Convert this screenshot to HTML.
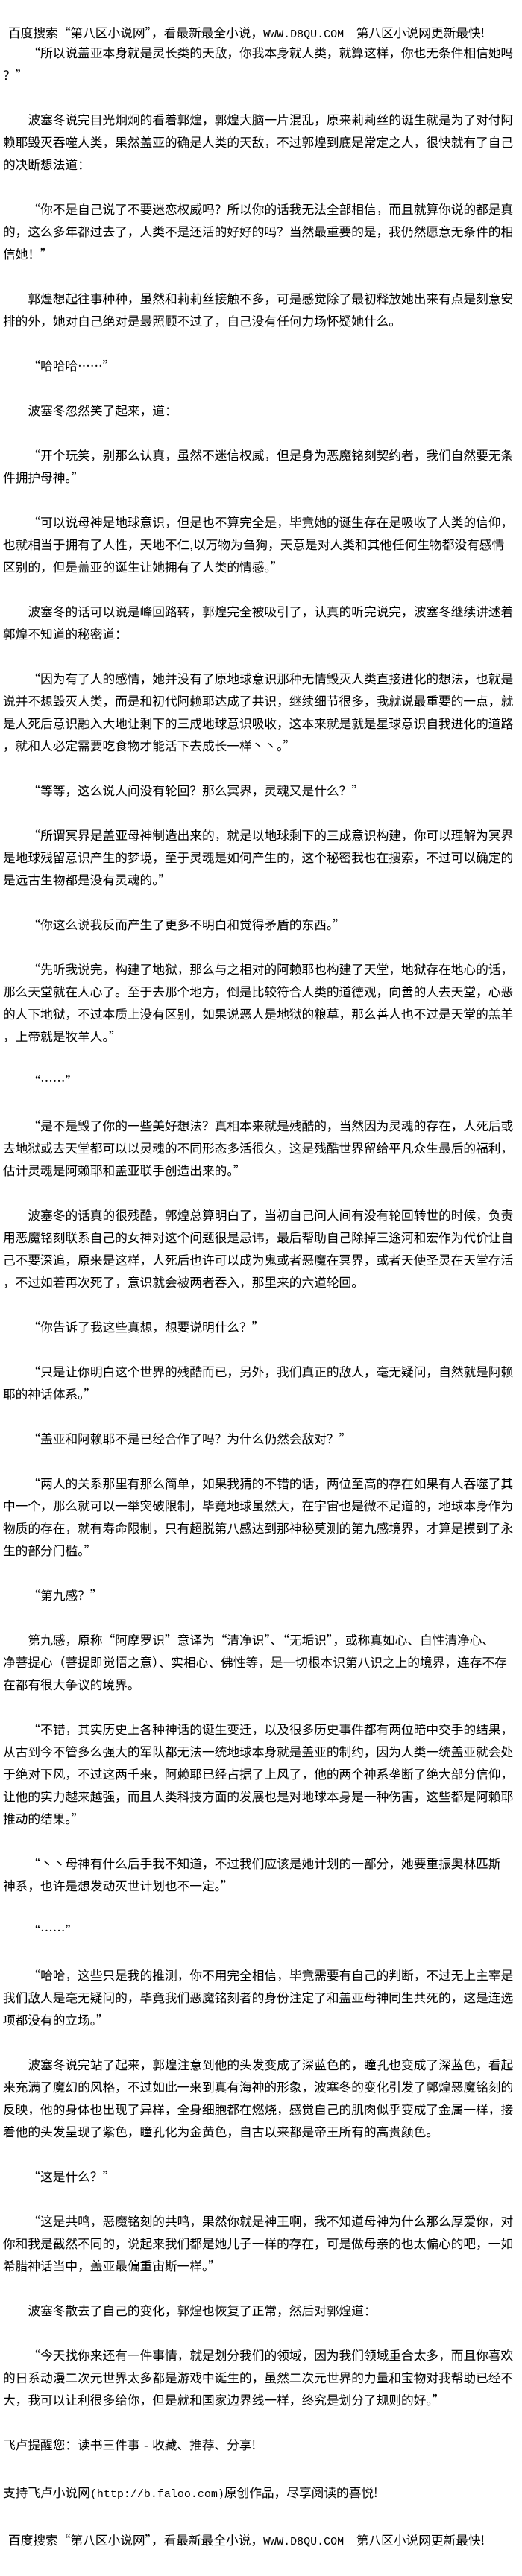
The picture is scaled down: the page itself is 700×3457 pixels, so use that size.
<!DOCTYPE html>
<html><head><meta charset="utf-8">
<style>
html,body{margin:0;padding:0;background:#fff;}
body{width:700px;height:3440px;position:relative;overflow:hidden;
font-family:"Noto Sans CJK SC","WenQuanYi Zen Hei",sans-serif;font-size:16.7px;line-height:30px;color:#000;}
.hd{position:absolute;left:11px;top:28px;white-space:nowrap;}
.main{position:absolute;left:4px;top:55px;width:692px;}
.main p{margin:0 0 30px 0;white-space:nowrap;}
.i{text-indent:2em;}
.lat{font-family:"Liberation Mono",monospace;font-size:15px;}
</style></head><body>
<div class="hd">百度搜索“第八区小说网”，看最新最全小说，<span class="lat">WWW.D8QU.COM</span>　第八区小说网更新最快!</div>
<div class="main">
<p class="i">“所以说盖亚本身就是灵长类的天敌，你我本身就人类，就算这样，你也无条件相信她吗<br>？”</p>
<p class="i">波塞冬说完目光炯炯的看着郭煌，郭煌大脑一片混乱，原来莉莉丝的诞生就是为了对付阿<br>赖耶毁灭吞噬人类，果然盖亚的确是人类的天敌，不过郭煌到底是常定之人，很快就有了自己<br>的决断想法道：</p>
<p class="i">“你不是自己说了不要迷恋权威吗？所以你的话我无法全部相信，而且就算你说的都是真<br>的，这么多年都过去了，人类不是还活的好好的吗？当然最重要的是，我仍然愿意无条件的相<br>信她！”</p>
<p class="i">郭煌想起往事种种，虽然和莉莉丝接触不多，可是感觉除了最初释放她出来有点是刻意安<br>排的外，她对自己绝对是最照顾不过了，自己没有任何力场怀疑她什么。</p>
<p class="i">“哈哈哈……”</p>
<p class="i">波塞冬忽然笑了起来，道：</p>
<p class="i">“开个玩笑，别那么认真，虽然不迷信权威，但是身为恶魔铭刻契约者，我们自然要无条<br>件拥护母神。”</p>
<p class="i">“可以说母神是地球意识，但是也不算完全是，毕竟她的诞生存在是吸收了人类的信仰，<br>也就相当于拥有了人性，天地不仁,以万物为刍狗，天意是对人类和其他任何生物都没有感情<br>区别的，但是盖亚的诞生让她拥有了人类的情感。”</p>
<p class="i">波塞冬的话可以说是峰回路转，郭煌完全被吸引了，认真的听完说完，波塞冬继续讲述着<br>郭煌不知道的秘密道：</p>
<p class="i">“因为有了人的感情，她并没有了原地球意识那种无情毁灭人类直接进化的想法，也就是<br>说并不想毁灭人类，而是和初代阿赖耶达成了共识，继续细节很多，我就说最重要的一点，就<br>是人死后意识融入大地让剩下的三成地球意识吸收，这本来就是就是星球意识自我进化的道路<br>，就和人必定需要吃食物才能活下去成长一样丶丶。”</p>
<p class="i">“等等，这么说人间没有轮回？那么冥界，灵魂又是什么？”</p>
<p class="i">“所谓冥界是盖亚母神制造出来的，就是以地球剩下的三成意识构建，你可以理解为冥界<br>是地球残留意识产生的梦境，至于灵魂是如何产生的，这个秘密我也在搜索，不过可以确定的<br>是远古生物都是没有灵魂的。”</p>
<p class="i">“你这么说我反而产生了更多不明白和觉得矛盾的东西。”</p>
<p class="i">“先听我说完，构建了地狱，那么与之相对的阿赖耶也构建了天堂，地狱存在地心的话，<br>那么天堂就在人心了。至于去那个地方，倒是比较符合人类的道德观，向善的人去天堂，心恶<br>的人下地狱，不过本质上没有区别，如果说恶人是地狱的粮草，那么善人也不过是天堂的羔羊<br>，上帝就是牧羊人。”</p>
<p class="i">“……”</p>
<p class="i">“是不是毁了你的一些美好想法？真相本来就是残酷的，当然因为灵魂的存在，人死后或<br>去地狱或去天堂都可以以灵魂的不同形态多活很久，这是残酷世界留给平凡众生最后的福利，<br>估计灵魂是阿赖耶和盖亚联手创造出来的。”</p>
<p class="i">波塞冬的话真的很残酷，郭煌总算明白了，当初自己问人间有没有轮回转世的时候，负责<br>用恶魔铭刻联系自己的女神对这个问题很是忌讳，最后帮助自己除掉三途河和宏作为代价让自<br>己不要深追，原来是这样，人死后也许可以成为鬼或者恶魔在冥界，或者天使圣灵在天堂存活<br>，不过如若再次死了，意识就会被两者吞入，那里来的六道轮回。</p>
<p class="i">“你告诉了我这些真想，想要说明什么？”</p>
<p class="i">“只是让你明白这个世界的残酷而已，另外，我们真正的敌人，毫无疑问，自然就是阿赖<br>耶的神话体系。”</p>
<p class="i">“盖亚和阿赖耶不是已经合作了吗？为什么仍然会敌对？”</p>
<p class="i">“两人的关系那里有那么简单，如果我猜的不错的话，两位至高的存在如果有人吞噬了其<br>中一个，那么就可以一举突破限制，毕竟地球虽然大，在宇宙也是微不足道的，地球本身作为<br>物质的存在，就有寿命限制，只有超脱第八感达到那神秘莫测的第九感境界，才算是摸到了永<br>生的部分门槛。”</p>
<p class="i">“第九感？”</p>
<p class="i">第九感，原称“阿摩罗识”意译为“清净识”、“无垢识”，或称真如心、自性清净心、<br>净菩提心（菩提即觉悟之意）、实相心、佛性等，是一切根本识第八识之上的境界，连存不存<br>在都有很大争议的境界。</p>
<p class="i">“不错，其实历史上各种神话的诞生变迁，以及很多历史事件都有两位暗中交手的结果，<br>从古到今不管多么强大的军队都无法一统地球本身就是盖亚的制约，因为人类一统盖亚就会处<br>于绝对下风，不过这两千来，阿赖耶已经占据了上风了，他的两个神系垄断了绝大部分信仰，<br>让他的实力越来越强，而且人类科技方面的发展也是对地球本身是一种伤害，这些都是阿赖耶<br>推动的结果。”</p>
<p class="i">“丶丶母神有什么后手我不知道，不过我们应该是她计划的一部分，她要重振奥林匹斯<br>神系，也许是想发动灭世计划也不一定。”</p>
<p class="i">“……”</p>
<p class="i">“哈哈，这些只是我的推测，你不用完全相信，毕竟需要有自己的判断，不过无上主宰是<br>我们敌人是毫无疑问的，毕竟我们恶魔铭刻者的身份注定了和盖亚母神同生共死的，这是连选<br>项都没有的立场。”</p>
<p class="i">波塞冬说完站了起来，郭煌注意到他的头发变成了深蓝色的，瞳孔也变成了深蓝色，看起<br>来充满了魔幻的风格，不过如此一来到真有海神的形象，波塞冬的变化引发了郭煌恶魔铭刻的<br>反映，他的身体也出现了异样，全身细胞都在燃烧，感觉自己的肌肉似乎变成了金属一样，接<br>着他的头发呈现了紫色，瞳孔化为金黄色，自古以来都是帝王所有的高贵颜色。</p>
<p class="i">“这是什么？”</p>
<p class="i">“这是共鸣，恶魔铭刻的共鸣，果然你就是神王啊，我不知道母神为什么那么厚爱你，对<br>你和我是截然不同的，说起来我们都是她儿子一样的存在，可是做母亲的也太偏心的吧，一如<br>希腊神话当中，盖亚最偏重宙斯一样。”</p>
<p class="i">波塞冬散去了自己的变化，郭煌也恢复了正常，然后对郭煌道：</p>
<p class="i">“今天找你来还有一件事情，就是划分我们的领域，因为我们领域重合太多，而且你喜欢<br>的日系动漫二次元世界太多都是游戏中诞生的，虽然二次元世界的力量和宝物对我帮助已经不<br>大，我可以让利很多给你，但是就和国家边界线一样，终究是划分了规则的好。”</p>
<p>飞卢提醒您：读书三件事 <span class="lat">-</span> 收藏、推荐、分享!</p>
<p>支持飞卢小说网<span class="lat">(http://b.faloo.com)</span>原创作品，尽享阅读的喜悦!</p>
<p style="padding-left:7px">百度搜索“第八区小说网”，看最新最全小说，<span class="lat">WWW.D8QU.COM</span>　第八区小说网更新最快!</p>
</div>
</body></html>
